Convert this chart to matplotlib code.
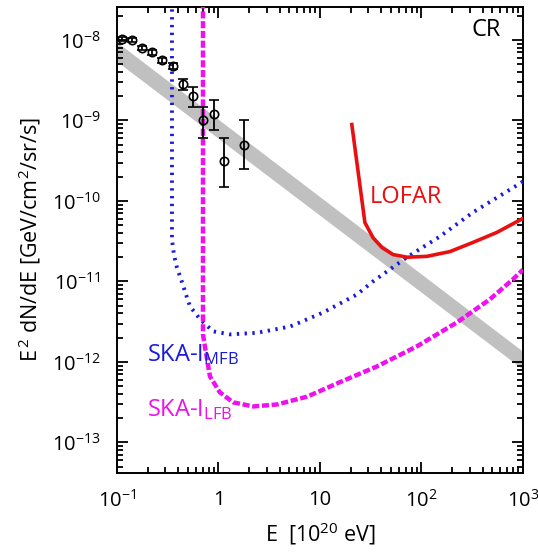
import numpy as np
import matplotlib
matplotlib.use("Agg")
import matplotlib.pyplot as plt
from matplotlib.ticker import FixedLocator, LogLocator, NullFormatter, FuncFormatter

plt.rcParams['font.family'] = ['Open Sans', 'DejaVu Sans']
plt.rcParams['mathtext.fontset'] = 'custom'
plt.rcParams['mathtext.rm'] = 'Open Sans'
plt.rcParams['mathtext.it'] = 'Open Sans'

# measured CR flux points
cr_E = [0.112, 0.14, 0.176, 0.22, 0.28, 0.355, 0.45, 0.56, 0.71, 0.9, 1.13, 1.78]
cr_F = [1.03e-8, 1.0e-8, 8.0e-9, 7.1e-9, 5.6e-9, 4.8e-9, 2.8e-9, 2.0e-9, 1.0e-9, 1.22e-9, 3.1e-10, 4.9e-10]
cr_hi = [1.1e-8, 1.07e-8, 8.5e-9, 7.6e-9, 6.0e-9, 5.2e-9, 3.3e-9, 2.6e-9, 1.45e-9, 1.8e-9, 6.0e-10, 1.0e-9]
cr_lo = [9.6e-9, 9.4e-9, 7.5e-9, 6.6e-9, 5.2e-9, 4.4e-9, 2.4e-9, 1.45e-9, 6.0e-10, 7.7e-10, 1.5e-10, 2.5e-10]

# grey model band
band_E = [0.1, 1000]
band_lo = [5.4e-9, 8.1e-13]
band_hi = [9.4e-9, 1.35e-12]

# SKA-I MFB (blue dotted)
mfb_E = [0.348, 0.348, 0.365, 0.39, 0.437, 0.478, 0.524, 0.658, 0.883, 1.30, 2.39, 5.06,
         10.7, 23.2, 33.3, 72, 151, 321, 1000]
mfb_F = [3e-8, 3.3e-11, 2.1e-11, 1.48e-11, 9.8e-12, 6.9e-12, 4.9e-12, 3.4e-12, 2.4e-12, 2.2e-12,
         2.3e-12, 2.75e-12, 4.1e-12, 6.9e-12, 1.0e-11, 2.0e-11, 3.6e-11, 7.2e-11, 1.74e-10]

# SKA-I LFB (magenta dashed)
lfb_E = [0.703, 0.703, 0.736, 0.824, 1.03, 1.39, 2.19, 3.77, 7.45, 15.7, 36.5, 90, 224, 473, 795, 1000]
lfb_F = [3e-8, 2.2e-12, 1.54e-12, 6.6e-13, 4.2e-13, 3.15e-13, 2.8e-13, 2.96e-13, 3.7e-13, 5.6e-13,
         8.8e-13, 1.56e-12, 3.1e-12, 6.0e-12, 1.06e-11, 1.4e-11]

# LOFAR (red)
lofar_E = [20.6, 27.7, 33.3, 40.8, 52.4, 72, 113, 191, 321, 554, 1000]
lofar_F = [8.9e-10, 5.4e-11, 3.5e-11, 2.64e-11, 2.16e-11, 2.0e-11, 2.05e-11, 2.35e-11, 3.05e-11,
           4.07e-11, 6.07e-11]

fig = plt.figure(figsize=(5.38, 5.58), dpi=100)
ax = fig.add_axes([0.2175, 0.1523, 0.7545, 0.8352])

ax.fill_between(band_E, band_lo, band_hi, color='#c0c0c0', lw=0, zorder=1)
ax.plot(mfb_E, mfb_F, color='#1a1adc', lw=2.8, ls=(0, (0.6, 1.4)), zorder=3)
ax.plot(lfb_E, lfb_F, color='#ee10ee', lw=3.2, ls=(0, (1.6, 0.6)), zorder=3)
ax.plot(lofar_E, lofar_F, color='#e81010', lw=2.6, zorder=3)

yerr = [np.array(cr_F) - np.array(cr_lo), np.array(cr_hi) - np.array(cr_F)]
ax.errorbar(cr_E, cr_F, yerr=yerr, fmt='o', mfc='none', mec='black', ecolor='black',
            ms=6, mew=1.2, elinewidth=1.3, capsize=3.5, capthick=1.3, zorder=4)

ax.set_xscale('log')
ax.set_yscale('log')
ax.set_xlim(0.1, 1000)
ax.set_ylim(10 ** -13.38, 10 ** -7.59)

def xfmt(v, pos):
    e = int(round(np.log10(v)))
    if e == 0:
        return '1'
    if e == 1:
        return '10'
    return r'$10^{%d}$' % e

def yfmt(v, pos):
    return r'$10^{%d}$' % int(round(np.log10(v)))

ax.xaxis.set_major_locator(FixedLocator([0.1, 1, 10, 100, 1000]))
ax.xaxis.set_major_formatter(FuncFormatter(xfmt))
ax.yaxis.set_major_locator(FixedLocator([1e-13, 1e-12, 1e-11, 1e-10, 1e-9, 1e-8]))
ax.yaxis.set_major_formatter(FuncFormatter(yfmt))
ax.xaxis.set_minor_locator(LogLocator(base=10, subs=np.arange(2, 10), numticks=20))
ax.yaxis.set_minor_locator(LogLocator(base=10, subs=np.arange(2, 10), numticks=20))
ax.xaxis.set_minor_formatter(NullFormatter())
ax.yaxis.set_minor_formatter(NullFormatter())

ax.tick_params(which='both', direction='in', top=True, right=True, width=1.3)
ax.tick_params(which='major', length=8, labelsize=14.5, pad=12)
ax.tick_params(which='minor', length=4)
for s in ax.spines.values():
    s.set_linewidth(1.4)

ax.set_xlabel(r'E  [10$^{20}$ eV]', fontsize=15.5, labelpad=6)
ax.set_ylabel(r'E$^{\,2}$ dN/dE [GeV/cm$^2$/sr/s]', fontsize=15.5, labelpad=6)

ax.text(0.91, 0.95, 'CR', transform=ax.transAxes, fontsize=17, ha='center', va='center')
ax.text(0.623, 0.592, 'LOFAR', transform=ax.transAxes, fontsize=17, color='#e81010', va='center')
ax.text(0.074, 0.253, r'SKA-I$_{\rm MFB}$', transform=ax.transAxes, fontsize=17, color='#1a1adc', va='center')
ax.text(0.074, 0.135, r'SKA-I$_{\rm LFB}$', transform=ax.transAxes, fontsize=17, color='#ee10ee', va='center')

fig.savefig('out.png', dpi=100)
